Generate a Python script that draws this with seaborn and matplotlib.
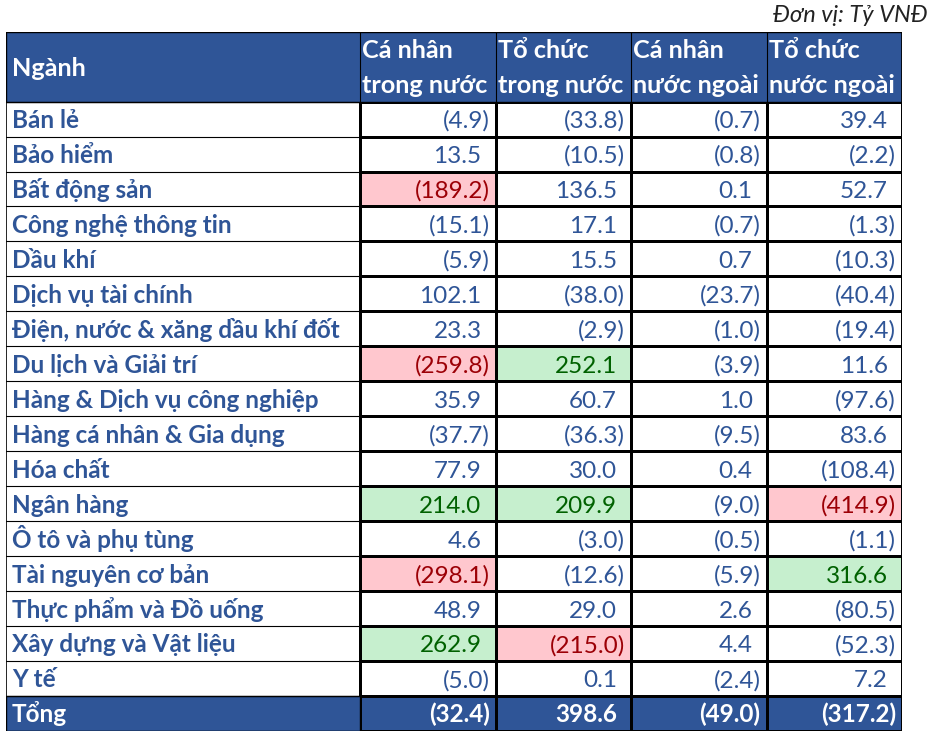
import matplotlib
matplotlib.use('Agg')

import numpy as np
import matplotlib.pyplot as plt
import seaborn as sns
from matplotlib.colors import ListedColormap

# --------------------------------------------------------------------------- #
# DATA
# --------------------------------------------------------------------------- #
sectors = [
    "Bán lẻ", "Bảo hiểm", "Bất động sản", "Công nghệ thông tin", "Dầu khí",
    "Dịch vụ tài chính", "Điện, nước & xăng dầu khí đốt", "Du lịch và Giải trí",
    "Hàng & Dịch vụ công nghiệp", "Hàng cá nhân & Gia dụng", "Hóa chất",
    "Ngân hàng", "Ô tô và phụ tùng", "Tài nguyên cơ bản",
    "Thực phẩm và Đồ uống", "Xây dựng và Vật liệu", "Y tế",
]
columns = ["Cá nhân\ntrong nước", "Tổ chức\ntrong nước",
           "Cá nhân\nnước ngoài", "Tổ chức\nnước ngoài"]

ca_nhan_trong_nuoc = [-4.9, 13.5, -189.2, -15.1, -5.9, 102.1, 23.3, -259.8, 35.9,
                      -37.7, 77.9, 214.0, 4.6, -298.1, 48.9, 262.9, -5.0]
to_chuc_trong_nuoc = [-33.8, -10.5, 136.5, 17.1, 15.5, -38.0, -2.9, 252.1, 60.7,
                      -36.3, 30.0, 209.9, -3.0, -12.6, 29.0, -215.0, 0.1]
ca_nhan_nuoc_ngoai = [-0.7, -0.8, 0.1, -0.7, 0.7, -23.7, -1.0, -3.9, 1.0,
                      -9.5, 0.4, -9.0, -0.5, -5.9, 2.6, 4.4, -2.4]
to_chuc_nuoc_ngoai = [39.4, -2.2, 52.7, -1.3, -10.3, -40.4, -19.4, 11.6, -97.6,
                      83.6, -108.4, -414.9, -1.1, 316.6, -80.5, -52.3, 7.2]
totals = [-32.4, 398.6, -49.0, -317.2]

# highlight: 0 none, 1 red (lowest), 2 green (highest)
highlights = [
    [0, 0, 0, 0], [0, 0, 0, 0], [1, 0, 0, 0], [0, 0, 0, 0], [0, 0, 0, 0],
    [0, 0, 0, 0], [0, 0, 0, 0], [1, 2, 0, 0], [0, 0, 0, 0], [0, 0, 0, 0],
    [0, 0, 0, 0], [2, 2, 0, 1], [0, 0, 0, 0], [1, 0, 0, 2], [0, 0, 0, 0],
    [2, 1, 0, 0], [0, 0, 0, 0],
]

# --------------------------------------------------------------------------- #
# STYLE
# --------------------------------------------------------------------------- #
BLUE = "#2F5597"
TEXT_BLUE = "#2F5597"
BG = ["#FFFFFF", "#FFC7CE", "#C6EFCE", BLUE]
FG = [TEXT_BLUE, "#9C0006", "#006100", "#FFFFFF"]

sns.set_theme(style="white")
plt.rcParams['font.family'] = ['Lato', 'DejaVu Sans']

values = np.array([ca_nhan_trong_nuoc, to_chuc_trong_nuoc,
                   ca_nhan_nuoc_ngoai, to_chuc_nuoc_ngoai]).T
values = np.vstack([values, totals])
codes = np.vstack([np.array(highlights), [3, 3, 3, 3]])
n_rows = codes.shape[0]

LABEL_W = 2.613      # label column width in cell units
HEAD_H = 1.99        # header height in row units
BASE = 0.755         # text baseline inside a row


def fmt(v):
    return f"({abs(v):.1f})" if v < 0 else f"{v:.1f}"


fig = plt.figure(figsize=(9.32, 7.4), dpi=100)
ax = fig.add_axes([6 / 932, 9 / 740, 896 / 932, 699 / 740])

sns.heatmap(codes, cmap=ListedColormap(BG), vmin=-0.5, vmax=3.5, cbar=False,
            linewidths=0.8, linecolor="black", xticklabels=False,
            yticklabels=False, ax=ax)
ax.set_xlim(-LABEL_W, 4)
ax.set_ylim(n_rows, -HEAD_H)
ax.axis("off")

# header band + total label cell
ax.add_patch(plt.Rectangle((-LABEL_W, -HEAD_H), LABEL_W + 4, HEAD_H,
                           facecolor=BLUE, edgecolor="black", lw=1, zorder=1))
ax.add_patch(plt.Rectangle((-LABEL_W, n_rows - 1), LABEL_W, 1,
                           facecolor=BLUE, edgecolor="black", lw=1, zorder=1))
for j in range(4):
    ax.plot([j, j], [-HEAD_H, 0], color="black", lw=0.8, zorder=2)
for i in range(n_rows + 1):
    ax.plot([-LABEL_W, 0], [i, i], color="black", lw=0.8, zorder=2)
ax.plot([-LABEL_W, -LABEL_W], [-HEAD_H, n_rows], color="black", lw=1.2, zorder=2)
ax.plot([4, 4], [-HEAD_H, n_rows], color="black", lw=1.2, zorder=2)

FS = 17.5
FS_HEAD = 18.2
# header text
ax.text(-LABEL_W + 0.045, -0.74, "Ngành", color="white", fontsize=FS_HEAD,
        fontweight="bold", va="baseline", ha="left")
for j, col in enumerate(columns):
    l1, l2 = col.split("\n")
    ax.text(j + 0.018, -1.24, l1, color="white", fontsize=FS_HEAD,
            fontweight="bold", va="baseline", ha="left")
    ax.text(j + 0.018, -0.257, l2, color="white", fontsize=FS_HEAD,
            fontweight="bold", va="baseline", ha="left")

# row labels
for i, name in enumerate(sectors + ["Tổng"]):
    color = "white" if i == n_rows - 1 else TEXT_BLUE
    ax.text(-LABEL_W + 0.045, i + BASE, name, color=color, fontsize=FS,
            fontweight="bold", va="baseline", ha="left")

# values
for i in range(n_rows):
    for j in range(4):
        v = values[i, j]
        x = j + 1 - (0.044 if v < 0 else 0.103)
        ax.text(x, i + BASE, fmt(v), color=FG[codes[i, j]], fontsize=FS,
                fontweight="bold" if codes[i, j] == 3 else "normal",
                va="baseline", ha="right")

fig.text(928 / 932, 1 - 15 / 740, "Đơn vị: Tỷ VNĐ", fontsize=17,
         style="italic", color="#222222", ha="right", va="center")

fig.savefig("out.png", dpi=100, facecolor="white")
